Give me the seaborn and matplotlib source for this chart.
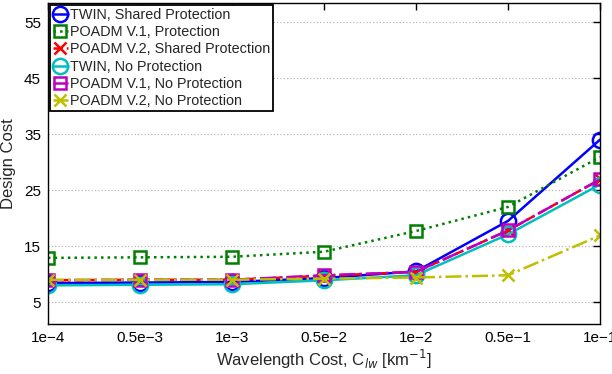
import matplotlib
matplotlib.use("Agg")
import matplotlib.pyplot as plt
import seaborn as sns
import pandas as pd

x_labels = ["1e\u22124", "0.5e\u22123", "1e\u22123", "0.5e\u22122", "1e\u22122", "0.5e\u22121", "1e\u22121"]

twin_shared = [8.4, 8.5, 8.6, 9.3, 10.5, 19.5, 34.0]
poadm1_prot = [12.9, 13.0, 13.1, 14.0, 17.7, 22.0, 30.9]
poadm2_shared = [8.9, 9.0, 9.0, 9.7, 10.4, 17.8, 26.9]
twin_noprot = [8.0, 8.1, 8.2, 8.9, 9.8, 17.1, 26.0]
poadm1_noprot = [8.9, 9.0, 9.0, 9.8, 10.4, 17.8, 26.9]
poadm2_noprot = [9.0, 9.0, 9.0, 9.2, 9.4, 9.8, 16.9]

series = [
    ("TWIN, Shared Protection", twin_shared, "#0000ff", "-", "o", 11),
    ("POADM V.1, Protection", poadm1_prot, "#008000", ":", "s", 8.5),
    ("POADM V.2, Shared Protection", poadm2_shared, "#ff0000", "--", "x", 9),
    ("TWIN, No Protection", twin_noprot, "#00bfbf", "-", "o", 11),
    ("POADM V.1, No Protection", poadm1_noprot, "#bf00bf", "-.", "s", 8.5),
    ("POADM V.2, No Protection", poadm2_noprot, "#bfbf00", "-.", "x", 9),
]

rows = []
for name, vals, *_ in series:
    for i, v in enumerate(vals):
        rows.append({"idx": i, "cost": v, "series": name})
df = pd.DataFrame(rows)

sns.set_theme(style="white")
plt.rcParams["font.family"] = ["Liberation Sans", "DejaVu Sans"]

fig = plt.figure(figsize=(6.12, 3.74), dpi=100)
ax = fig.add_axes([48 / 612, 50 / 374, 552 / 612, 321 / 374])

for name, vals, color, ls, mk, ms in series:
    sub = df[df["series"] == name]
    sns.lineplot(data=sub, x="idx", y="cost", ax=ax, color=color, linestyle=ls,
                 linewidth=1.8, marker=mk, markersize=ms,
                 markerfacecolor="none" if mk != "x" else color,
                 markeredgecolor=color, markeredgewidth=1.8, label=name)

ax.set_xlim(0, 6)
ax.set_ylim(1.1, 58.4)
ax.set_xticks(range(7))
ax.set_xticklabels(x_labels)
ax.set_yticks([5, 15, 25, 35, 45, 55])
ax.yaxis.grid(True, linestyle=":", color="#b8b8b8", linewidth=0.9)
ax.xaxis.grid(False)
ax.tick_params(direction="in", length=5, width=1, top=True, right=True,
               labelsize=11, colors="black", pad=5)
for s in ax.spines.values():
    s.set_color("black")
    s.set_linewidth(1.0)
ax.set_xlabel("Wavelength Cost, C$_{lw}$ [km$^{-1}$]", fontsize=12, labelpad=2)
ax.set_ylabel("Design Cost", fontsize=12, labelpad=6)

leg = ax.legend(loc="upper left", fontsize=10.4, frameon=True, fancybox=False,
                edgecolor="black", handlelength=1.0, handletextpad=0.15,
                borderpad=0.2, labelspacing=0.22, borderaxespad=0.15,
                framealpha=1)
leg.get_frame().set_linewidth(1.3)

fig.savefig("out.png", dpi=100)
